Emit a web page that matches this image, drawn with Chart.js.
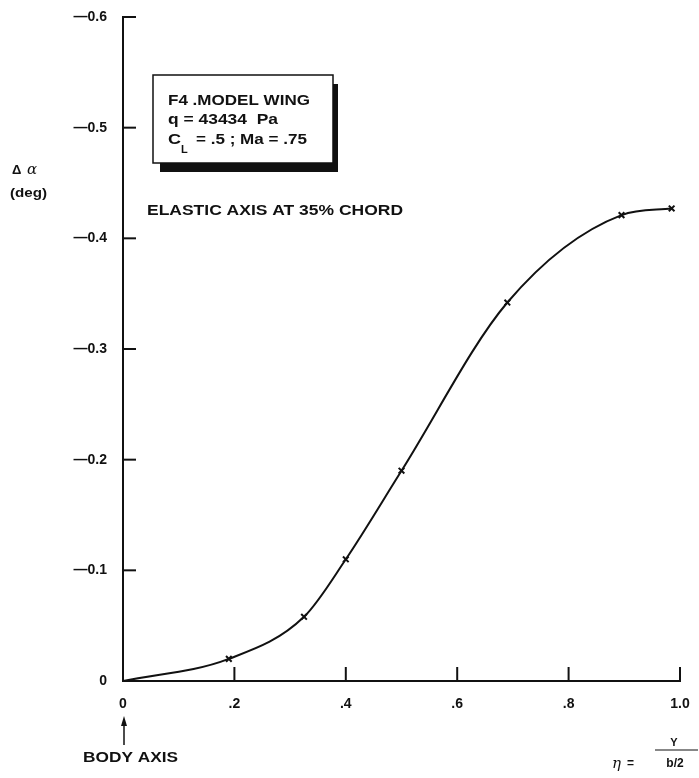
<!DOCTYPE html>
<html>
<head>
<meta charset="utf-8">
<style>
  html, body { margin: 0; padding: 0; background: #fff; }
  #wrap { width: 699px; height: 778px; }
</style>
</head>
<body>
<div id="wrap"><canvas id="c" width="699" height="778"></canvas></div>

<script src="https://cdn.jsdelivr.net/npm/chart.js"></script>
<script>
// span station eta = y/(b/2) and twist change (deg)
const eta   = [0, 0.19, 0.325, 0.40, 0.50, 0.69, 0.895, 0.985];
const dAlfa = [0, -0.020, -0.058, -0.110, -0.190, -0.342, -0.421, -0.427];
const yTicks = [-0.6, -0.5, -0.4, -0.3, -0.2, -0.1, 0];
const xTicks = [0, 0.2, 0.4, 0.6, 0.8, 1.0];
const xTickText = ['0', '.2', '.4', '.6', '.8', '1.0'];

const ink = '#111';
const font = '"Liberation Sans", Arial, sans-serif';

// draw text stretched horizontally to a given width (wide lettering of the original)
function fit(ctx, s, x, y, size, width) {
  ctx.font = 'bold ' + size + 'px ' + font;
  const w = ctx.measureText(s).width;
  const sx = width ? width / w : 1;
  ctx.save();
  ctx.translate(x, y);
  ctx.scale(sx, 1);
  ctx.fillText(s, 0, 0);
  ctx.restore();
}

const decor = {
  id: 'decor',
  afterDraw(chart) {
    const ctx = chart.ctx;
    const xs = chart.scales.x, ys = chart.scales.y;
    ctx.save();
    ctx.strokeStyle = ink;
    ctx.fillStyle = ink;
    ctx.lineWidth = 2;

    // inward ticks
    const x0 = xs.getPixelForValue(0), y0 = ys.getPixelForValue(0);
    yTicks.forEach(v => {
      if (v === 0) return;
      const p = ys.getPixelForValue(v);
      ctx.beginPath(); ctx.moveTo(x0, p); ctx.lineTo(x0 + 13, p); ctx.stroke();
    });
    xTicks.forEach(v => {
      if (v === 0) return;
      const p = xs.getPixelForValue(v);
      ctx.beginPath(); ctx.moveTo(p, y0); ctx.lineTo(p, y0 - 14); ctx.stroke();
    });

    // info box with shadow
    ctx.fillRect(160, 84, 178, 88);
    ctx.fillStyle = '#fff';
    ctx.fillRect(153, 75, 180, 88);
    ctx.lineWidth = 1.5;
    ctx.strokeRect(153, 75, 180, 88);
    ctx.fillStyle = ink;
    ctx.textBaseline = 'alphabetic';
    ctx.textAlign = 'left';
    fit(ctx, 'F4 .MODEL WING', 168, 105, 15, 142);
    fit(ctx, 'q = 43434  Pa', 168, 124, 15, 110);
    fit(ctx, 'C', 168, 144, 15, 13);
    fit(ctx, 'L', 181, 153, 11, 0);
    fit(ctx, '= .5 ; Ma = .75', 196, 144, 15, 111);

    fit(ctx, 'ELASTIC AXIS AT 35% CHORD', 147, 215, 14, 256);

    // y axis title
    fit(ctx, '\u0394', 12, 174, 13, 0);
    ctx.font = 'italic 15px "DejaVu Serif", serif';
    ctx.fillText('\u03b1', 27, 174);
    fit(ctx, '(deg)', 10, 197, 12, 37);

    // body axis arrow
    ctx.lineWidth = 1.5;
    ctx.beginPath(); ctx.moveTo(x0 + 1, 745); ctx.lineTo(x0 + 1, 722); ctx.stroke();
    ctx.beginPath();
    ctx.moveTo(x0 + 1, 716); ctx.lineTo(x0 - 2, 726); ctx.lineTo(x0 + 4, 726);
    ctx.closePath(); ctx.fill();
    fit(ctx, 'BODY AXIS', 83, 762, 14, 95);

    // eta = y / (b/2)
    ctx.font = 'italic 15px "DejaVu Serif", serif';
    ctx.fillText('\u03b7', 612, 768);
    ctx.font = 'bold 12px ' + font;
    ctx.fillText('=', 627, 767);
    ctx.textAlign = 'center';
    ctx.font = 'bold 11px ' + font;
    ctx.fillText('Y', 674, 746);
    ctx.font = 'bold 12px ' + font;
    ctx.fillText('b/2', 675, 767);
    ctx.lineWidth = 1.2;
    ctx.beginPath(); ctx.moveTo(655, 750); ctx.lineTo(698, 750); ctx.stroke();
    ctx.restore();
  }
};

new Chart(document.getElementById('c'), {
  type: 'line',
  data: {
    datasets: [{
      data: eta.map((x, i) => ({ x, y: dAlfa[i] })),
      borderColor: ink,
      borderWidth: 2,
      cubicInterpolationMode: 'monotone',
      pointStyle: 'crossRot',
      pointRadius: eta.map((x, i) => i === 0 ? 0 : 4),
      pointBorderColor: ink,
      pointBorderWidth: 2,
      fill: false
    }]
  },
  options: {
    responsive: false,
    animation: false,
    layout: { padding: { top: 17, right: 19, left: 0, bottom: 0 } },
    plugins: { legend: { display: false }, tooltip: { enabled: false } },
    scales: {
      x: {
        type: 'linear', min: 0, max: 1,
        afterFit: s => { s.height = 97; s.paddingLeft = 0; s.paddingRight = 0; },
        afterBuildTicks: s => { s.ticks = xTicks.map(v => ({ value: v })); },
        grid: { display: false, drawTicks: false },
        border: { display: true, color: ink, width: 2 },
        ticks: {
          padding: 15, color: ink,
          font: { family: font, size: 14, weight: 'bold' },
          callback: v => xTickText[xTicks.indexOf(v)] ?? ''
        }
      },
      y: {
        type: 'linear', min: -0.6, max: 0, reverse: true,
        afterFit: s => { s.width = 123; s.paddingTop = 0; s.paddingBottom = 0; },
        afterBuildTicks: s => { s.ticks = yTicks.map(v => ({ value: v })); },
        grid: { display: false, drawTicks: false },
        border: { display: true, color: ink, width: 2 },
        ticks: {
          padding: 16, color: ink,
          font: { family: font, size: 14, weight: 'bold' },
          callback: v => v === 0 ? '0' : '\u2014' + Math.abs(v).toFixed(1)
        }
      }
    }
  },
  plugins: [decor]
});
</script>
</body>
</html>
